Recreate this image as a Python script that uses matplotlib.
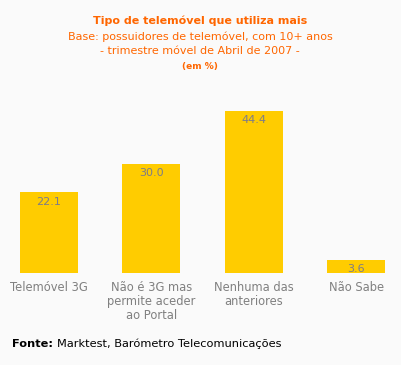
import matplotlib.pyplot as plt

categories = ["Telemóvel 3G", "Não é 3G mas\npermite aceder\nao Portal", "Nenhuma das\nanteriores", "Não Sabe"]
values = [22.1, 30.0, 44.4, 3.6]

bar_color = "#FFCC00"
grey = "#808080"
orange = "#FF6600"

fig = plt.figure(figsize=(4.01, 3.65), dpi=100, facecolor="#FAFAFA")
ax = fig.add_axes([0, 1 - 273 / 365, 1, 182.5 / 365])
ax.set_facecolor("#FAFAFA")

x = range(len(values))
bars = ax.bar(x, values, width=0.566, color=bar_color)
ax.set_xlim(-0.479, 3.4375)
ax.set_ylim(0, 50)
for s in ax.spines.values():
    s.set_visible(False)
ax.set_yticks([])
ax.set_xticks(list(x))
ax.set_xticklabels(categories, fontsize=8.3, color=grey, va="top", linespacing=1.08)
ax.tick_params(axis="x", length=0, pad=6)

for b, v in zip(bars, values):
    ax.annotate(f"{v:.1f}", (b.get_x() + b.get_width() / 2, v), xytext=(0, -3),
                textcoords="offset points", ha="center", va="top", fontsize=8, color="#7C7C8A")

fig.text(200 / 401, 1 - 21 / 365, "Tipo de telemóvel que utiliza mais", ha="center", va="center",
         fontsize=8, fontweight="bold", color=orange)
fig.text(200 / 401, 1 - 37 / 365, "Base: possuidores de telemóvel, com 10+ anos", ha="center", va="center",
         fontsize=8, color=orange)
fig.text(200 / 401, 1 - 51 / 365, "- trimestre móvel de Abril de 2007 -", ha="center", va="center",
         fontsize=8, color=orange)
fig.text(200 / 401, 1 - 66 / 365, "(em %)", ha="center", va="center",
         fontsize=6.5, fontweight="bold", color=orange)

t = fig.text(12 / 401, 1 - 344 / 365, "Fonte:", ha="left", va="center", fontsize=8.2, fontweight="bold", color="black")
fig.canvas.draw()
bb = t.get_window_extent()
fig.text((bb.x1 + 4) / 401, 1 - 344 / 365, "Marktest, Barómetro Telecomunicações", ha="left", va="center",
         fontsize=8.2, color="black")

fig.savefig("out.png", dpi=100, facecolor=fig.get_facecolor())
